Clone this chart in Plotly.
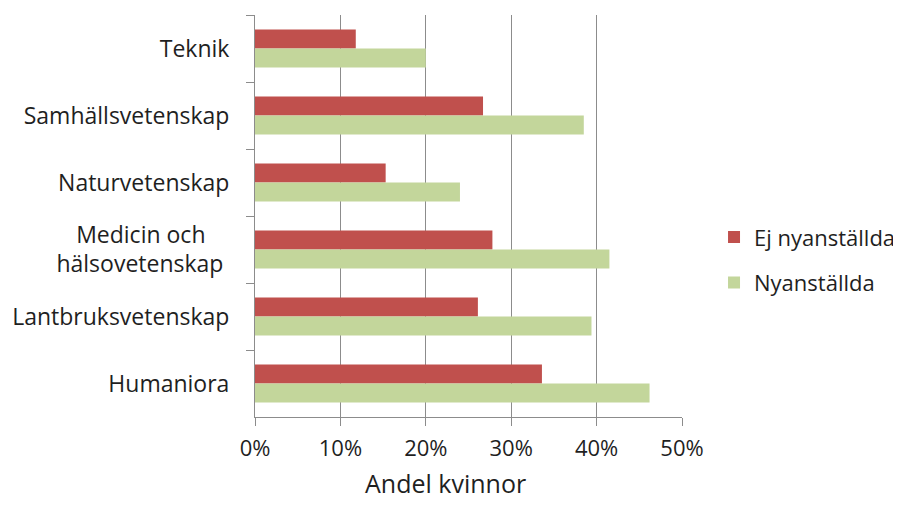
import plotly.graph_objects as go

NB = "\u00a0"
categories = ["Teknik", "Samhällsvetenskap", "Naturvetenskap",
              "Medicin och" + NB * 4 + "<br>hälsovetenskap" + NB, "Lantbruksvetenskap", "Humaniora"]
ej_nyanstallda = [0.118, 0.267, 0.153, 0.278, 0.261, 0.336]
nyanstallda = [0.200, 0.385, 0.240, 0.415, 0.394, 0.462]
x_ticks = [0, 0.1, 0.2, 0.3, 0.4, 0.5]
x_ticklabels = ["0%", "10%", "20%", "30%", "40%", "50%"]
x_title = "Andel kvinnor"

FONT = "Open Sans"
TXT = "#1f1f1f"
GRID = "#8c8c8c"

fig = go.Figure()
fig.add_trace(go.Bar(y=categories, x=ej_nyanstallda, orientation="h",
                     name="Ej nyanställda", marker=dict(color="#C0504D", line=dict(width=0)),
                     legendgroup="a"))
fig.add_trace(go.Bar(y=categories, x=nyanstallda, orientation="h",
                     name="Nyanställda", marker=dict(color="#C3D69B", line=dict(width=0)),
                     legendgroup="b"))

fig.update_layout(
    width=901, height=506,
    margin=dict(l=247, r=227, t=7, b=97, autoexpand=False),
    paper_bgcolor="white", plot_bgcolor="white",
    barmode="group", bargap=0.43, bargroupgap=0,
    font=dict(family=FONT, size=22, color=TXT),
    legend=dict(x=1.075, y=0.39, xanchor="left", yanchor="middle",
                font=dict(size=22, color=TXT), tracegroupgap=14,
                bgcolor="rgba(0,0,0,0)"),
    showlegend=True,
)
fig.add_annotation(text=x_title, xref="paper", yref="paper", x=0.447, y=-0.165,
                   xanchor="center", yanchor="middle", showarrow=False,
                   font=dict(size=25, color=TXT))
fig.update_xaxes(range=[0, 0.5], tickvals=x_ticks, ticktext=x_ticklabels,
                 showgrid=True, gridcolor=GRID, gridwidth=1,
                 showline=True, linecolor=GRID, linewidth=1,
                 ticks="outside", ticklen=8, tickcolor=GRID,
                 zeroline=False, tickfont=dict(size=22, color=TXT), automargin=False,
                 ticklabelstandoff=4)
fig.update_yaxes(autorange="reversed", type="category", automargin=False,
                 showgrid=False, showline=True, linecolor=GRID, linewidth=1,
                 ticks="outside", ticklen=8, tickcolor=GRID, tickson="boundaries",
                 tickfont=dict(size=23, color=TXT), ticklabelstandoff=20)

fig.write_html("out.html")
